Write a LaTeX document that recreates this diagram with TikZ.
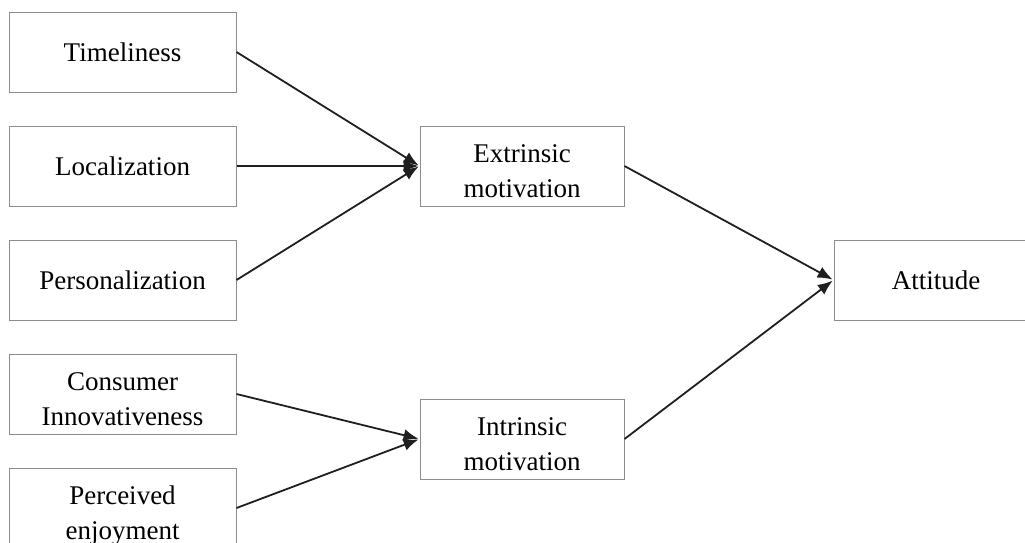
\documentclass[tikz,border=0pt]{standalone}
\usepackage{fontspec}
\setmainfont{Liberation Serif}
\usetikzlibrary{arrows.meta}
\newcommand{\tstrut}{\rule{0pt}{34pt}}
\newcommand{\bstrut}{\rule[-7pt]{0pt}{7pt}}
\tikzset{
  factor/.style = { draw=black!45, line width=1pt, minimum width=227pt, minimum height=80pt, align=center, inner sep=0pt, font=\fontsize{27}{35}\selectfont },
  motive/.style = { factor, minimum width=204pt },
  effect/.style = { line width=1.8pt, black!88, -{Latex[length=15pt,width=12pt]}, shorten >=1pt },
}
\begin{document}
\begin{tikzpicture}[x=1pt,y=-1pt]
    \useasboundingbox (0,0) rectangle (1025,542);
    \clip (0,0) rectangle (1025,542);

    % Draw all boxes
    % antecedents
    \node[factor] (time) at (122.5,52)  {Timeliness};
    \node[factor] (loc)  at (122.5,166) {Localization};
    \node[factor] (pers) at (122.5,280) {Personalization};
    \node[factor] (innov) at (122.5,394) {\tstrut Consumer\\Innovativeness\bstrut};
    \node[factor] (enjoy) at (122.5,508) {\tstrut Perceived\\enjoyment\bstrut};

    % motivation
    \node[motive] (extr) at (522,166) {\tstrut Extrinsic\\motivation\bstrut};
    \node[motive] (intr) at (522,439) {\tstrut Intrinsic\\motivation\bstrut};

    % outcome
    \node[motive] (att) at (936,280) {Attitude};

    % Draw paths
    \draw[effect] (time.east) -- (extr.west);
    \draw[effect] (loc.east) -- (extr.west);
    \draw[effect] (pers.east) -- (extr.west);
    \draw[effect] (innov.east) -- (intr.west);
    \draw[effect] (enjoy.east) -- (intr.west);
    \draw[effect] (extr.east) -- (att.west);
    \draw[effect] (intr.east) -- (att.west);
\end{tikzpicture}
\end{document}
